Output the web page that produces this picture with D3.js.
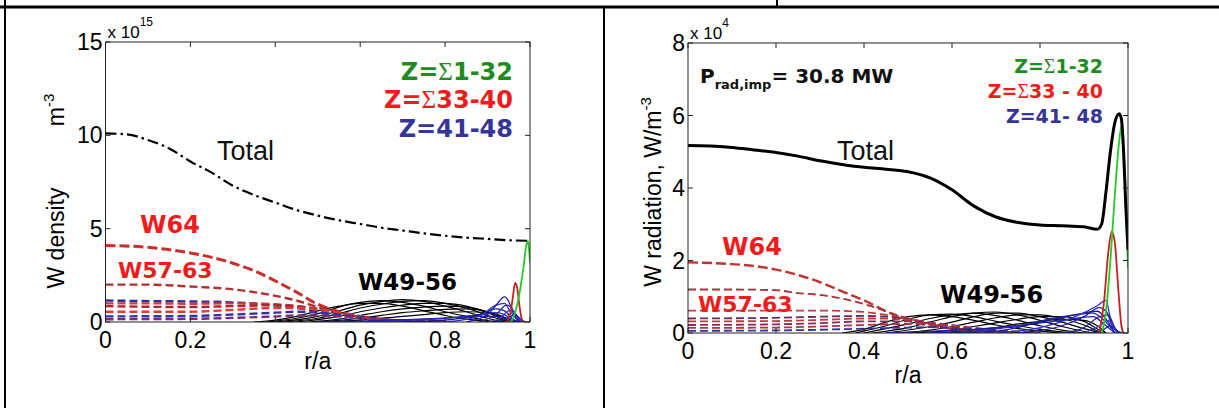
<!DOCTYPE html>
<html>
<head>
<meta charset="utf-8">
<script src="https://cdn.jsdelivr.net/npm/d3@7/dist/d3.min.js"></script>
<style>
  body { margin: 0; background: #fff; }
  svg { display: block; }
</style>
</head>
<body>
<script>
// ---- data (x = r/a) ----
const rTicks = [0, 0.2, 0.4, 0.6, 0.8, 1];
const densTicks = [0, 5, 10, 15];      // x 10^15 m^-3
const radTicks = [0, 2, 4, 6, 8];      // x 10^4 W/m^3

// left panel: W density
const densTotal = [[0,10.1],[0.05,10.05],[0.1,9.75],[0.15,9.3],[0.2,8.6],[0.25,8.0],[0.3,7.3],[0.35,6.8],[0.4,6.4],[0.45,6.0],[0.5,5.7],[0.55,5.45],[0.6,5.25],[0.65,5.05],[0.7,4.9],[0.75,4.75],[0.8,4.62],[0.85,4.52],[0.9,4.45],[0.95,4.38],[1.0,4.35]];
const densW57_64 = [
  [[0,4.1],[0.1,4.0],[0.2,3.7],[0.3,3.15],[0.35,2.75],[0.4,2.2],[0.45,1.6],[0.5,0.95],[0.55,0.55],[0.6,0.3],[0.65,0.15],[0.7,0.06],[0.75,0.02],[0.8,0]],
  [[0,2.0],[0.1,2.0],[0.2,1.9],[0.3,1.75],[0.4,1.4],[0.45,1.15],[0.5,0.8],[0.55,0.5],[0.6,0.25],[0.65,0.12],[0.7,0.05],[0.8,0]],
  [[0,1.15],[0.1,1.12],[0.2,1.1],[0.3,1.05],[0.4,0.9],[0.45,0.75],[0.5,0.55],[0.55,0.35],[0.6,0.18],[0.65,0.08],[0.7,0.02],[0.8,0]],
  [[0,1.0],[0.1,1.0],[0.2,0.98],[0.3,1.0],[0.4,0.95],[0.45,0.85],[0.5,0.7],[0.55,0.45],[0.6,0.22],[0.65,0.1],[0.7,0.03],[0.8,0]],
  [[0,0.85],[0.2,0.8],[0.3,0.85],[0.4,0.9],[0.45,0.85],[0.5,0.7],[0.55,0.5],[0.6,0.3],[0.65,0.12],[0.7,0.04],[0.8,0]],
  [[0,0.55],[0.2,0.55],[0.3,0.65],[0.4,0.75],[0.45,0.75],[0.5,0.65],[0.55,0.5],[0.6,0.3],[0.65,0.15],[0.7,0.05],[0.8,0]],
  [[0,0.3],[0.2,0.32],[0.3,0.4],[0.4,0.5],[0.45,0.55],[0.5,0.5],[0.55,0.4],[0.6,0.28],[0.65,0.15],[0.7,0.06],[0.8,0]],
  [[0,0.15],[0.2,0.17],[0.3,0.22],[0.4,0.3],[0.45,0.35],[0.5,0.35],[0.55,0.3],[0.6,0.22],[0.65,0.13],[0.7,0.06],[0.8,0]]
];
const densW49_56 = [
  [[0.35,0],[0.4,0.1],[0.45,0.3],[0.5,0.6],[0.55,0.85],[0.6,1.0],[0.65,1.0],[0.7,0.85],[0.75,0.6],[0.8,0.35],[0.85,0.15],[0.9,0.03],[0.93,0]],
  [[0.38,0],[0.45,0.2],[0.5,0.45],[0.55,0.8],[0.6,1.05],[0.65,1.15],[0.7,1.05],[0.75,0.85],[0.8,0.55],[0.85,0.3],[0.9,0.08],[0.94,0]],
  [[0.4,0],[0.5,0.3],[0.55,0.6],[0.6,0.9],[0.65,1.1],[0.7,1.2],[0.75,1.1],[0.8,0.85],[0.85,0.55],[0.9,0.2],[0.94,0]],
  [[0.42,0],[0.5,0.2],[0.55,0.45],[0.6,0.75],[0.65,0.95],[0.7,1.1],[0.75,1.15],[0.8,1.0],[0.85,0.75],[0.9,0.35],[0.95,0]],
  [[0.45,0],[0.55,0.3],[0.6,0.55],[0.65,0.75],[0.7,0.9],[0.75,1.0],[0.8,1.0],[0.85,0.85],[0.9,0.5],[0.95,0]],
  [[0.48,0],[0.55,0.15],[0.6,0.35],[0.65,0.55],[0.7,0.7],[0.75,0.8],[0.8,0.85],[0.85,0.8],[0.9,0.55],[0.93,0.25],[0.96,0]],
  [[0.5,0],[0.6,0.2],[0.65,0.35],[0.7,0.5],[0.75,0.6],[0.8,0.68],[0.85,0.7],[0.9,0.55],[0.93,0.3],[0.96,0]],
  [[0.52,0],[0.6,0.1],[0.7,0.3],[0.75,0.4],[0.8,0.5],[0.85,0.55],[0.9,0.5],[0.93,0.35],[0.96,0.05],[0.97,0]]
];
const densW41_48 = [
  [[0.5,0],[0.6,0.05],[0.7,0.12],[0.8,0.2],[0.88,0.3],[0.92,0.3],[0.95,0.1],[0.97,0]],
  [[0.6,0],[0.7,0.08],[0.8,0.2],[0.88,0.4],[0.92,0.5],[0.94,0.4],[0.96,0.1],[0.97,0]],
  [[0.7,0],[0.8,0.1],[0.88,0.4],[0.92,0.7],[0.94,0.6],[0.96,0.15],[0.975,0]],
  [[0.8,0],[0.88,0.3],[0.92,0.9],[0.94,1.0],[0.955,0.5],[0.975,0]],
  [[0.85,0],[0.9,0.4],[0.92,0.9],[0.94,1.35],[0.95,1.1],[0.96,0.5],[0.975,0]],
  [[0.88,0],[0.92,0.4],[0.945,0.9],[0.955,0.8],[0.97,0.2],[0.98,0]],
  [[0.9,0],[0.93,0.2],[0.95,0.6],[0.96,0.6],[0.975,0.15],[0.985,0]],
  [[0.92,0],[0.95,0.25],[0.965,0.4],[0.98,0.1],[0.99,0]]
];
const densW33_40 = [[0.945,0],[0.955,0.6],[0.96,1.4],[0.965,2.1],[0.97,1.8],[0.975,0.9],[0.98,0.2],[0.985,0]];
const densW1_32 = [[0.955,0],[0.965,0.5],[0.975,1.5],[0.985,3.0],[0.992,4.2],[0.995,4.35],[0.998,3.8],[1.0,3.2]];

// right panel: W radiation
const radTotal = [[0,5.17],[0.05,5.16],[0.1,5.12],[0.15,5.05],[0.2,4.98],[0.25,4.88],[0.3,4.75],[0.35,4.65],[0.4,4.57],[0.45,4.52],[0.5,4.45],[0.55,4.28],[0.6,3.95],[0.65,3.5],[0.7,3.2],[0.75,3.05],[0.8,2.98],[0.85,2.96],[0.9,2.93],[0.93,2.86],[0.94,3.0],[0.95,3.9],[0.96,5.0],[0.97,5.8],[0.98,6.05],[0.985,5.9],[0.99,5.0],[0.995,3.5],[1.0,2.3]];
const radW57_64 = [
  [[0,1.95],[0.1,1.9],[0.15,1.85],[0.2,1.75],[0.25,1.6],[0.3,1.4],[0.35,1.15],[0.4,0.9],[0.45,0.6],[0.5,0.35],[0.55,0.2],[0.6,0.12],[0.65,0.06],[0.7,0.02],[0.75,0]],
  [[0,1.2],[0.1,1.2],[0.2,1.18],[0.25,1.1],[0.3,1.05],[0.35,0.95],[0.4,0.8],[0.45,0.6],[0.5,0.4],[0.55,0.25],[0.6,0.12],[0.7,0.03],[0.8,0]],
  [[0,0.62],[0.2,0.62],[0.3,0.62],[0.4,0.58],[0.45,0.5],[0.5,0.4],[0.55,0.28],[0.6,0.16],[0.65,0.08],[0.7,0.03],[0.8,0]],
  [[0,0.4],[0.2,0.42],[0.3,0.45],[0.4,0.47],[0.45,0.45],[0.5,0.38],[0.55,0.28],[0.6,0.18],[0.65,0.1],[0.7,0.04],[0.8,0]],
  [[0,0.32],[0.2,0.33],[0.3,0.36],[0.4,0.4],[0.45,0.4],[0.5,0.36],[0.55,0.28],[0.6,0.2],[0.65,0.12],[0.7,0.05],[0.8,0]],
  [[0,0.22],[0.2,0.24],[0.3,0.27],[0.4,0.32],[0.5,0.32],[0.55,0.28],[0.6,0.22],[0.65,0.14],[0.7,0.07],[0.8,0]],
  [[0,0.14],[0.2,0.15],[0.3,0.18],[0.4,0.22],[0.5,0.25],[0.55,0.24],[0.6,0.2],[0.65,0.14],[0.7,0.08],[0.8,0]],
  [[0,0.06],[0.2,0.07],[0.3,0.09],[0.4,0.12],[0.5,0.15],[0.55,0.16],[0.6,0.14],[0.65,0.1],[0.7,0.06],[0.8,0]]
];
const radW49_56 = [
  [[0.35,0],[0.4,0.1],[0.45,0.3],[0.5,0.45],[0.55,0.5],[0.6,0.45],[0.65,0.35],[0.7,0.22],[0.75,0.12],[0.8,0.05],[0.85,0]],
  [[0.38,0],[0.45,0.2],[0.5,0.38],[0.55,0.5],[0.6,0.52],[0.65,0.45],[0.7,0.32],[0.75,0.2],[0.8,0.1],[0.88,0]],
  [[0.4,0],[0.5,0.25],[0.55,0.4],[0.6,0.5],[0.65,0.55],[0.7,0.48],[0.75,0.35],[0.8,0.2],[0.85,0.08],[0.9,0]],
  [[0.42,0],[0.5,0.15],[0.55,0.3],[0.6,0.45],[0.65,0.55],[0.7,0.58],[0.75,0.5],[0.8,0.35],[0.85,0.18],[0.92,0]],
  [[0.45,0],[0.55,0.18],[0.6,0.3],[0.65,0.45],[0.7,0.55],[0.75,0.55],[0.8,0.45],[0.85,0.3],[0.9,0.12],[0.94,0]],
  [[0.48,0],[0.55,0.08],[0.6,0.18],[0.65,0.3],[0.7,0.42],[0.75,0.5],[0.8,0.5],[0.85,0.4],[0.9,0.22],[0.94,0]],
  [[0.5,0],[0.6,0.08],[0.65,0.18],[0.7,0.28],[0.75,0.38],[0.8,0.45],[0.85,0.45],[0.9,0.32],[0.94,0.05],[0.95,0]],
  [[0.55,0],[0.65,0.08],[0.7,0.15],[0.75,0.25],[0.8,0.32],[0.85,0.38],[0.9,0.35],[0.93,0.2],[0.95,0]]
];
const radW41_48 = [
  [[0.45,0],[0.55,0.05],[0.65,0.1],[0.75,0.2],[0.85,0.35],[0.92,0.45],[0.95,0.2],[0.97,0]],
  [[0.55,0],[0.65,0.05],[0.75,0.2],[0.85,0.45],[0.92,0.55],[0.95,0.3],[0.97,0]],
  [[0.6,0],[0.7,0.05],[0.8,0.3],[0.88,0.5],[0.93,0.6],[0.955,0.3],[0.97,0]],
  [[0.7,0],[0.8,0.15],[0.88,0.45],[0.93,0.75],[0.95,0.9],[0.96,0.4],[0.975,0]],
  [[0.75,0],[0.85,0.2],[0.9,0.45],[0.935,0.7],[0.95,0.6],[0.965,0.2],[0.98,0]],
  [[0.85,0],[0.9,0.15],[0.935,0.45],[0.955,0.5],[0.97,0.15],[0.98,0]],
  [[0.9,0],[0.935,0.2],[0.955,0.35],[0.97,0.1],[0.985,0]],
  [[0.92,0],[0.945,0.1],[0.96,0.2],[0.975,0.05],[0.99,0]]
];
const radW33_40 = [[0.935,0],[0.945,0.8],[0.955,2.2],[0.963,2.8],[0.97,2.5],[0.978,1.2],[0.985,0.2],[0.99,0]];
const radW1_32 = [[0.94,0],[0.95,0.6],[0.96,2.0],[0.97,3.8],[0.98,5.3],[0.985,5.7],[0.99,5.0],[0.995,3.5],[1.0,1.8]];


const svg = d3.select("body").append("svg")
  .attr("width", 1219)
  .attr("height", 408);

// table frame around the two figures
svg.append("line").attr("x1", 0).attr("x2", 1219).attr("y1", 7).attr("y2", 7)
  .attr("stroke", "#000").attr("stroke-width", 3);
svg.append("line").attr("x1", 5).attr("x2", 5).attr("y1", 0).attr("y2", 408)
  .attr("stroke", "#000").attr("stroke-width", 2);
svg.append("line").attr("x1", 604).attr("x2", 604).attr("y1", 7).attr("y2", 408)
  .attr("stroke", "#000").attr("stroke-width", 2);
svg.append("line").attr("x1", 777).attr("x2", 777).attr("y1", 0).attr("y2", 7)
  .attr("stroke", "#000").attr("stroke-width", 2);

const dashedColorsL = ["#c8302c", "#b03030", "#2e2e9c", "#d43a34", "#a82a30", "#e03a36", "#3434a4", "#7a2a78"];
const dashedColorsR = ["#c03430", "#a83232", "#b84040", "#6a2a6a", "#c43a3a", "#8a2a5a", "#a83444", "#3434a0"];
const blueShades = ["#1f1fa0", "#2a2ab8", "#1a1a8a", "#3030c0", "#1c1cb0", "#2828a0", "#3a3ad0", "#2020c8"];
const FONT = "Liberation Sans, Arial, sans-serif";

function drawPanel(p) {
  const x = d3.scaleLinear().domain([0, 1]).range([p.left, p.right]);
  const y = d3.scaleLinear().domain([0, p.yMax]).range([p.bottom, p.top]);
  const g = svg.append("g");

  const clipId = "clip" + p.id;
  g.append("clipPath").attr("id", clipId)
    .append("rect")
    .attr("x", p.left).attr("y", p.top - 2)
    .attr("width", p.right - p.left).attr("height", p.bottom - p.top + 2);

  const line = d3.line()
    .x(d => x(d[0]))
    .y(d => y(d[1]))
    .curve(d3.curveMonotoneX);

  const plot = g.append("g").attr("clip-path", `url(#${clipId})`);

  // W49-56, thin black
  plot.selectAll("path.w49").data(p.w49).enter().append("path")
    .attr("class", "w49")
    .attr("d", line).attr("fill", "none")
    .attr("stroke", "#000").attr("stroke-width", 1.2);

  // W57-64 dashed
  plot.selectAll("path.w57").data(p.w57).enter().append("path")
    .attr("class", "w57")
    .attr("d", line).attr("fill", "none")
    .attr("stroke", (d, i) => p.dashColors[i])
    .attr("stroke-width", (d, i) => i === 0 ? p.w64Width : p.dashWidth)
    .attr("stroke-dasharray", (d, i) => i === 0 ? "10,4" : "8,4");

  // Z=41-48
  plot.selectAll("path.w41").data(p.w41).enter().append("path")
    .attr("class", "w41")
    .attr("d", line).attr("fill", "none")
    .attr("stroke", (d, i) => blueShades[i]).attr("stroke-width", 1.3);

  plot.append("path").datum(p.w33).attr("d", line).attr("fill", "none")
    .attr("stroke", "#c82020").attr("stroke-width", 1.8);
  plot.append("path").datum(p.w1).attr("d", line).attr("fill", "none")
    .attr("stroke", "#22cc22").attr("stroke-width", 1.8);

  plot.append("path").datum(p.total).attr("d", line).attr("fill", "none")
    .attr("stroke", "#000").attr("stroke-width", p.totalWidth)
    .attr("stroke-dasharray", p.totalDash);

  // box and inward ticks (matlab style)
  g.append("rect")
    .attr("x", p.left).attr("y", p.top)
    .attr("width", p.right - p.left).attr("height", p.bottom - p.top)
    .attr("fill", "none").attr("stroke", "#222").attr("stroke-width", 1);

  const tk = 5;
  rTicks.forEach(t => {
    g.append("line").attr("x1", x(t)).attr("x2", x(t)).attr("y1", p.bottom).attr("y2", p.bottom - tk)
      .attr("stroke", "#222");
    g.append("line").attr("x1", x(t)).attr("x2", x(t)).attr("y1", p.top).attr("y2", p.top + tk)
      .attr("stroke", "#222");
    g.append("text").attr("x", x(t)).attr("y", p.bottom + 26)
      .attr("text-anchor", "middle")
      .attr("font-family", FONT)
      .attr("font-size", 23)
      .text(d3.format("~g")(t));
  });
  p.yTicks.forEach(t => {
    g.append("line").attr("x1", p.left).attr("x2", p.left + tk).attr("y1", y(t)).attr("y2", y(t))
      .attr("stroke", "#222");
    g.append("line").attr("x1", p.right).attr("x2", p.right - tk).attr("y1", y(t)).attr("y2", y(t))
      .attr("stroke", "#222");
    g.append("text").attr("x", p.left - 3).attr("y", y(t) + 8)
      .attr("text-anchor", "end")
      .attr("font-family", FONT)
      .attr("font-size", 23)
      .text(t);
  });

  // exponent
  const ex = g.append("text").attr("x", p.left + 2).attr("y", p.top - 4)
    .attr("font-family", FONT)
    .attr("font-size", 17);
  ex.append("tspan").text("x 10");
  ex.append("tspan").attr("dy", -12).attr("font-size", 12).text(p.exponent);

  // x label
  g.append("text").attr("x", (p.left + p.right) / 2).attr("y", p.xLabelY)
    .attr("text-anchor", "middle")
    .attr("font-family", FONT)
    .attr("font-size", 23)
    .text("r/a");

  return { x, y, g };
}

const left = drawPanel({
  id: "L", left: 105.5, right: 530, top: 42, bottom: 322, yMax: 15,
  yTicks: densTicks, exponent: "15", xLabelY: 369,
  total: densTotal, totalWidth: 2.2, totalDash: "11,4,2.5,4",
  w57: densW57_64, w49: densW49_56, w41: densW41_48, w33: densW33_40, w1: densW1_32,
  dashColors: dashedColorsL, w64Width: 3, dashWidth: 2.4
});

const right = drawPanel({
  id: "R", left: 688, right: 1128, top: 43, bottom: 333, yMax: 8,
  yTicks: radTicks, exponent: "4", xLabelY: 383,
  total: radTotal, totalWidth: 3, totalDash: null,
  w57: radW57_64, w49: radW49_56, w41: radW41_48, w33: radW33_40, w1: radW1_32,
  dashColors: dashedColorsR, w64Width: 2.4, dashWidth: 1.8
});

// annotations
function label(g, txt, x, y, size, color, opts = {}) {
  return g.append("text").attr("x", x).attr("y", y)
    .attr("font-family", opts.bold ? "DejaVu Sans, sans-serif" : FONT)
    .attr("font-weight", opts.bold ? "bold" : "normal")
    .attr("font-size", size)
    .attr("fill", color)
    .attr("text-anchor", opts.anchor || "start")
    .text(txt);
}
// Z labels: bold text with a thin sigma like the original's symbol font
function zLabel(g, pre, sigma, post, x, y, size, color) {
  const t = g.append("text").attr("x", x).attr("y", y)
    .attr("font-family", "DejaVu Sans, sans-serif")
    .attr("font-weight", "bold")
    .attr("font-size", size)
    .attr("fill", color)
    .attr("text-anchor", "end");
  t.append("tspan").text(pre);
  if (sigma) {
    t.append("tspan").attr("font-family", "Liberation Serif, serif")
      .attr("font-weight", "normal").attr("font-size", size * 1.05).text("\u03a3");
  }
  t.append("tspan").text(post);
  return t;
}
const green = "#1e8c1e", red = "#f01c1c", blue = "#34349a";

// left panel texts
label(left.g, "Total", 217, 160, 27, "#111");
zLabel(left.g, "Z=", true, "1-32", 513, 80, 24, green);
zLabel(left.g, "Z=", true, "33-40", 513, 108, 24, red);
zLabel(left.g, "Z=41-48", false, "", 513, 137, 24, blue);
label(left.g, "W64", 140, 233, 24, red, { bold: true });
label(left.g, "W57-63", 118, 278, 22, red, { bold: true });
label(left.g, "W49-56", 358, 290, 23, "#000", { bold: true });

left.g.append("text")
  .attr("transform", "translate(64,238) rotate(-90)")
  .attr("text-anchor", "middle")
  .attr("font-family", FONT)
  .attr("font-size", 23)
  .text("W density");
const ylm = left.g.append("text")
  .attr("transform", "translate(64,110) rotate(-90)")
  .attr("text-anchor", "middle")
  .attr("font-family", FONT)
  .attr("font-size", 23);
ylm.append("tspan").text("m");
ylm.append("tspan").attr("dy", -10).attr("font-size", 15).text("-3");

// right panel texts
const pr = right.g.append("text").attr("x", 700).attr("y", 83)
  .attr("font-family", "DejaVu Sans, sans-serif").attr("font-weight", "bold")
  .attr("font-size", 20).attr("fill", "#111");
pr.append("tspan").text("P");
pr.append("tspan").attr("dy", 6).attr("font-size", 13).text("rad,imp");
pr.append("tspan").attr("dy", -6).text("= 30.8 MW");

label(right.g, "Total", 837, 160, 27, "#111");
zLabel(right.g, "Z=", true, "1-32", 1103, 73, 19, green);
zLabel(right.g, "Z=", true, "33 - 40", 1103, 98, 19, red);
zLabel(right.g, "Z=41- 48", false, "", 1103, 123, 19, blue);
label(right.g, "W64", 722, 255, 24, red, { bold: true });
label(right.g, "W57-63", 698, 312, 22, red, { bold: true });
label(right.g, "W49-56", 940, 303, 24, "#000", { bold: true });

const yr = right.g.append("text")
  .attr("transform", "translate(661,192) rotate(-90)")
  .attr("text-anchor", "middle")
  .attr("font-family", FONT)
  .attr("font-size", 23);
yr.append("tspan").text("W radiation, W/m");
yr.append("tspan").attr("dy", -10).attr("font-size", 15).text("-3");
</script>
</body>
</html>
